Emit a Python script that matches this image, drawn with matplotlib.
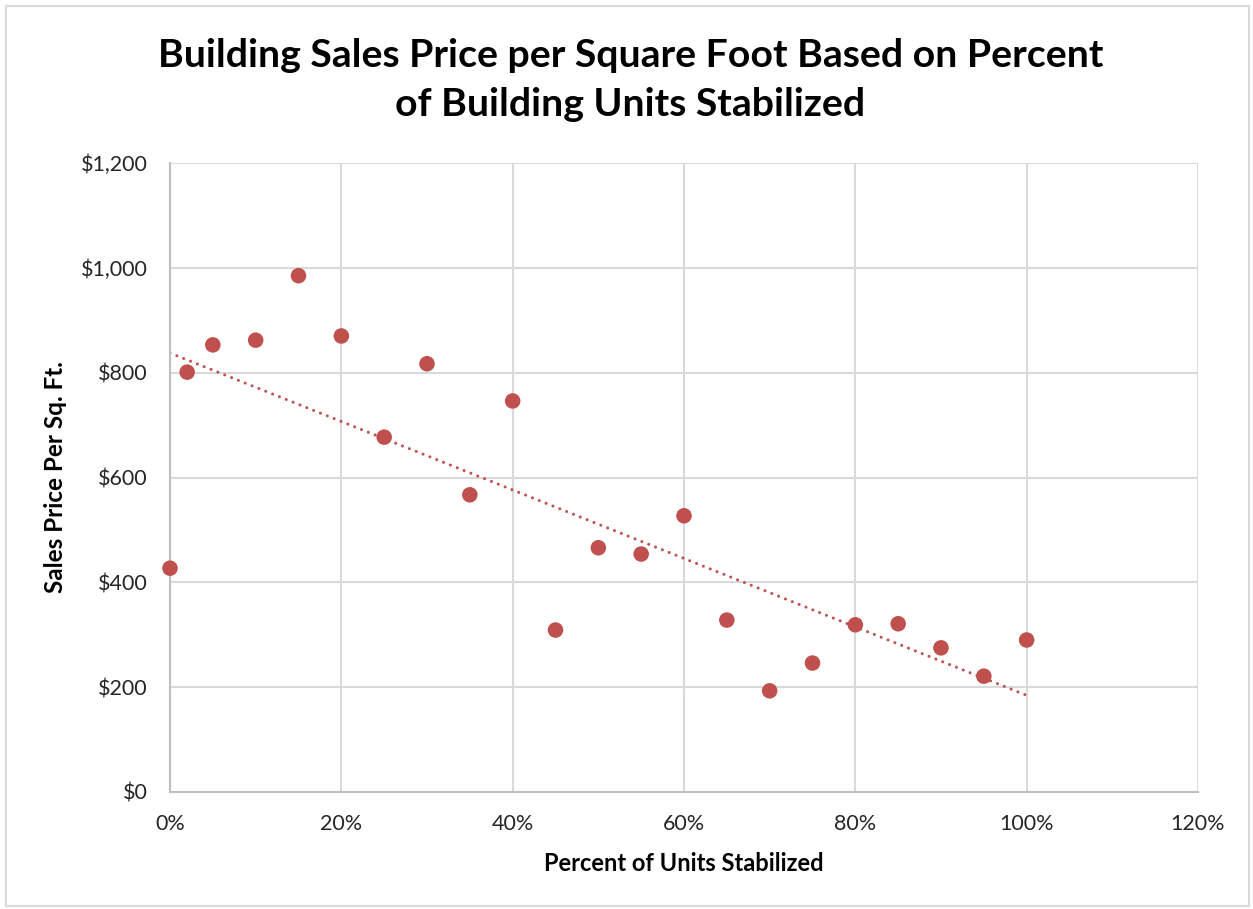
import numpy as np
import matplotlib
matplotlib.use('Agg')
import matplotlib.pyplot as plt
from matplotlib.ticker import FuncFormatter, MultipleLocator
from matplotlib.patches import Rectangle

plt.rcParams['font.family'] = ['Lato', 'DejaVu Sans']

# percent of units stabilized (fraction) and price per sq ft
pct_stabilized = [0.00, 0.02, 0.05, 0.10, 0.15, 0.20, 0.25, 0.30, 0.35, 0.40, 0.45,
                  0.50, 0.55, 0.60, 0.65, 0.70, 0.75, 0.80, 0.85, 0.90, 0.95, 1.00]
price_sqft = [427, 801, 853, 862, 985, 870, 677, 817, 567, 746, 309,
              466, 454, 527, 328, 193, 246, 319, 321, 275, 221, 290]

red = '#C0504D'
grid_col = '#D9D9D9'
axis_col = '#BFBFBF'

fig = plt.figure(figsize=(12.53, 9.09), dpi=100)
ax = fig.add_axes([170/1253, 1-792/909, (1198-170)/1253, (792-163)/909])

# linear trendline
coef = np.polyfit(pct_stabilized, price_sqft, 1)
tx = np.array([min(pct_stabilized), max(pct_stabilized)])
ax.plot(tx, np.polyval(coef, tx), color=red, lw=2.2,
        linestyle=(0, (0.01, 2.4)), dash_capstyle='round', zorder=2)

ax.scatter(pct_stabilized, price_sqft, s=125, color=red, edgecolors='none', zorder=3, clip_on=False)

ax.set_xlim(0, 1.2)
ax.set_ylim(0, 1200)
ax.xaxis.set_major_locator(MultipleLocator(0.2))
ax.yaxis.set_major_locator(MultipleLocator(200))
ax.xaxis.set_major_formatter(FuncFormatter(lambda v, p: f'{v*100:.0f}%'))
ax.yaxis.set_major_formatter(FuncFormatter(lambda v, p: f'${v:,.0f}'))
ax.grid(True, color=grid_col, lw=1.5, zorder=0)
ax.set_axisbelow(True)
for s in ['top', 'right']:
    ax.spines[s].set_visible(False)
for s in ['left', 'bottom']:
    ax.spines[s].set_color(axis_col)
    ax.spines[s].set_linewidth(1.5)
ax.tick_params(length=0, labelsize=15.5, colors='#262626')
ax.tick_params(axis='y', pad=16)
ax.tick_params(axis='x', pad=16)

ax.set_xlabel('Percent of Units Stabilized', fontsize=17, fontweight='bold', labelpad=13)
ax.set_ylabel('Sales Price Per Sq. Ft.', fontsize=17.5, fontweight='bold', labelpad=10)

fig.text(0.503, 1-80/909, 'Building Sales Price per Square Foot Based on Percent\nof Building Units Stabilized',
         ha='center', va='center', fontsize=28.3, fontweight='bold', linespacing=1.45)

# chart area border
fig.patches.append(Rectangle((6/1253, 1-906/909), 1243/1253, 900/909, transform=fig.transFigure,
                             fill=False, edgecolor=grid_col, lw=1.5))

fig.savefig('out.png', dpi=100)
